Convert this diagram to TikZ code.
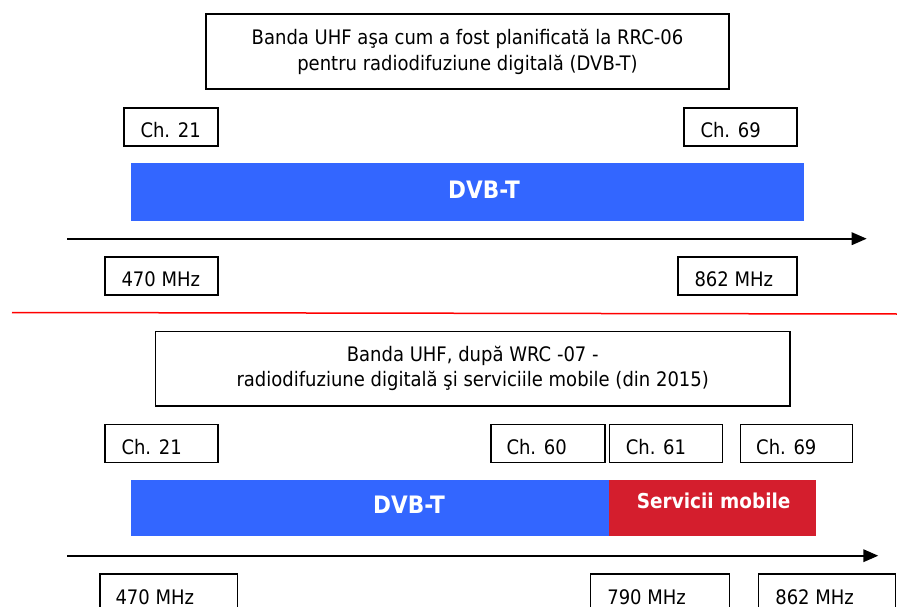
\documentclass[tikz,border=0pt]{standalone}
\usepackage{fontspec}
\setmainfont{DejaVu Sans}[FakeStretch=0.9]
\usetikzlibrary{arrows.meta}
\definecolor{dvbblue}{RGB}{51,102,255}
\definecolor{mobred}{RGB}{212,30,45}
\definecolor{sepred}{RGB}{255,0,0}
\begin{document}
\begin{tikzpicture}[x=1pt,y=-1pt,
  every node/.style={font=\fontsize{20}{26}\selectfont},
  frame/.style={draw, line width=1.4pt, inner sep=0pt},
  chbox/.style={frame, minimum height=38pt},
  lbl/.style={anchor=base west, inner sep=0pt},
  bar/.style={inner sep=0pt, draw=none},
  bartext/.style={anchor=base, inner sep=0pt, text=white, font=\fontsize{24}{28}\selectfont\bfseries},
  axis/.style={line width=2pt, -{Triangle[length=15pt,width=12.5pt]}}
]
\useasboundingbox (0,0) rectangle (897,607);
\clip (0,0) rectangle (897,607);

% ---------- top part ----------
\node[frame, minimum width=523pt, minimum height=75pt, align=center] (ttitle) at (467.5,51.5)
  {Banda UHF aşa cum a fost planificată la RRC-06\\pentru radiodifuziune digitală (DVB-T)};

\node[chbox, minimum width=94pt] (t21) at (171,127) {};
\node[lbl] (t21t) at ([xshift=17pt,yshift=-10.7pt]t21.west) {Ch. 21};
\node[chbox, minimum width=113pt] (t69) at (740.5,127) {};
\node[lbl] (t69t) at ([xshift=17pt,yshift=-10.7pt]t69.west) {Ch. 69};

\node[bar, fill=dvbblue, minimum width=672.7pt, minimum height=57.7pt] (tbar) at (467.4,191.9) {};
\node[bartext] (tdvb) at (484,198) {DVB-T};

\coordinate (ta0) at (67,238.7);
\coordinate (ta1) at (866.7,238.7);
\draw[axis] (ta0) -- (ta1);

\node[chbox, minimum width=113pt] (t470) at (161.5,276) {};
\node[lbl] (t470t) at ([xshift=17pt,yshift=-10.7pt]t470.west) {470 MHz};
\node[chbox, minimum width=119pt] (t862) at (737.5,276) {};
\node[lbl] (t862t) at ([xshift=17pt,yshift=-10.7pt]t862.west) {862 MHz};

% ---------- separator ----------
\coordinate (s0) at (12,312.5);
\coordinate (s1) at (897,314);
\draw[sepred, line width=1.5pt] (s0) -- (s1);

% ---------- bottom part ----------
\node[frame, minimum width=634.7pt, minimum height=74.7pt, align=center,
      font=\fontsize{20}{25}\selectfont] (btitle) at (472.7,368.7)
  {Banda UHF, după WRC -07 -\\radiodifuziune digitală şi serviciile mobile (din 2015)};

\node[chbox, minimum width=113pt] (b21) at (161.5,443.5) {};
\node[lbl] (b21t) at ([xshift=17pt,yshift=-11.2pt]b21.west) {Ch. 21};
\node[chbox, minimum width=114pt] (b60) at (548,443.5) {};
\node[lbl] (b60t) at ([xshift=16pt,yshift=-11.2pt]b60.west) {Ch. 60};
\node[chbox, minimum width=113.4pt] (b61) at (666,443.5) {};
\node[lbl] (b61t) at ([xshift=17pt,yshift=-11.2pt]b61.west) {Ch. 61};
\node[chbox, minimum width=112pt] (b69) at (796.7,443.5) {};
\node[lbl] (b69t) at ([xshift=16pt,yshift=-11.2pt]b69.west) {Ch. 69};

\node[bar, fill=dvbblue, minimum width=478.3pt, minimum height=55.7pt] (bbar) at (370.2,507.9) {};
\node[bar, fill=mobred, minimum width=206.7pt, minimum height=55.7pt] (mbar) at (712.65,507.9) {};
\node[bartext] (bdvb) at (409,513) {DVB-T};
\node[bartext, font=\fontsize{20.5}{24}\selectfont\bfseries] (mob) at (713.7,508.3) {Servicii mobile};

\coordinate (ba0) at (67,555.7);
\coordinate (ba1) at (878.3,555.7);
\draw[axis] (ba0) -- (ba1);

\node[chbox, minimum width=137.7pt] (b470) at (168.9,593) {};
\node[lbl] (b470t) at ([xshift=16pt,yshift=-11pt]b470.west) {470 MHz};
\node[chbox, minimum width=139pt] (b790) at (659.8,593) {};
\node[lbl] (b790t) at ([xshift=17.5pt,yshift=-11pt]b790.west) {790 MHz};
\node[chbox, minimum width=137.4pt] (b862) at (827,593) {};
\node[lbl] (b862t) at ([xshift=17.5pt,yshift=-11pt]b862.west) {862 MHz};
\end{tikzpicture}
\end{document}
